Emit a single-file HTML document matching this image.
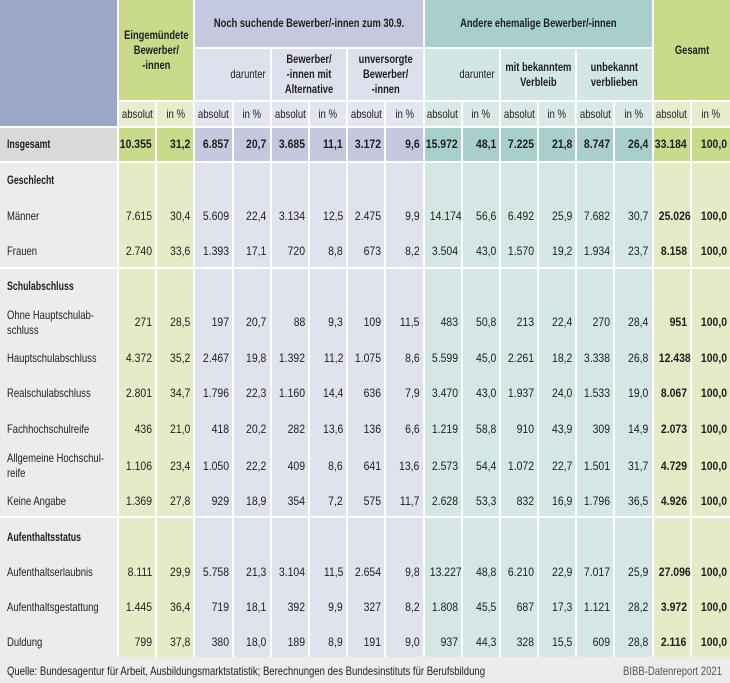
<!DOCTYPE html>
<html><head><meta charset="utf-8">
<style>
*{box-sizing:border-box}
body{margin:0;width:730px;height:683px;position:relative;overflow:hidden;background:#fff;font-family:"Liberation Sans",sans-serif;color:#1e1e1e;font-size:12px}
.g{position:absolute;left:0;width:730px;display:grid;grid-template-columns:117px repeat(15,36.2px) 1fr;column-gap:2px}
.hd{top:0;grid-template-rows:47px 51px 24px 33px;row-gap:2px}
.hd>div{display:flex;align-items:center;justify-content:center;text-align:center;line-height:15px;white-space:nowrap}
.h{display:inline-block;font-weight:bold;transform:scaleX(.78);transform-origin:50% 50%}
.hr{justify-content:flex-end !important;padding-right:4px}
.hr span{display:inline-block;transform:scaleX(.79);transform-origin:100% 50%}
.ab{display:inline-block;transform:scaleX(.8);transform-origin:50% 50%}
.ins>div,.ins{}
.hd .num{justify-content:flex-end;padding-right:3px}
.n{display:inline-block;transform:scaleX(.87);transform-origin:100% 50%;white-space:nowrap}
.b{font-weight:bold}
.l{display:inline-block;transform:scaleX(.79);transform-origin:0 50%;white-space:nowrap}
.lb{display:inline-block;font-weight:bold;transform:scaleX(.73);transform-origin:0 50%;white-space:nowrap}
.sec{grid-template-rows:1fr}
.row{position:absolute;left:0;width:730px;height:30px;display:grid;grid-template-columns:117px repeat(15,36.2px) 1fr;column-gap:2px;align-items:center}
.row>div{text-align:right;padding-right:3px;white-space:nowrap;line-height:15px}
.row>div.lab{text-align:left;padding-left:7px;padding-right:0}
.LH{background:#9ca6c9}.GH{background:#c9da8b}.BH{background:#c5c9df}.TH{background:#a8cfcb}
.B2{background:#dee0ed}.T2{background:#d2e6e3}
.G3{background:#e5edcd}.B3{background:#e3e5f0}.T3{background:#dae9e7}
.IL{background:#d9d9d9}.IG{background:#c9da8b}.IB{background:#c4c8de}.IT{background:#a8cfcb}
.BL{background:#ececec}.BG{background:#e3ecc6}.BB{background:#e0e2ee}.BT{background:#d4e7e4}
</style></head><body>

<div class="g hd">
  <div class="LH" style="grid-column:1;grid-row:1/4"></div>
  <div class="GH" style="grid-column:2/4;grid-row:1/3"><span class="h">Eingemündete<br>Bewerber/<br>-innen</span></div>
  <div class="BH" style="grid-column:4/10;grid-row:1"><span class="h">Noch suchende Bewerber/-innen zum 30.9.</span></div>
  <div class="TH" style="grid-column:10/16;grid-row:1"><span class="h">Andere ehemalige Bewerber/-innen</span></div>
  <div class="GH" style="grid-column:16/18;grid-row:1/3"><span class="h">Gesamt</span></div>
  <div class="B2 hr" style="grid-column:4/6;grid-row:2"><span>darunter</span></div>
  <div class="B2" style="grid-column:6/8;grid-row:2"><span class="h">Bewerber/<br>-innen mit<br>Alternative</span></div>
  <div class="B2" style="grid-column:8/10;grid-row:2"><span class="h">unversorgte<br>Bewerber/<br>-innen</span></div>
  <div class="T2 hr" style="grid-column:10/12;grid-row:2"><span>darunter</span></div>
  <div class="T2" style="grid-column:12/14;grid-row:2"><span class="h">mit bekanntem<br>Verbleib</span></div>
  <div class="T2" style="grid-column:14/16;grid-row:2"><span class="h">unbekannt<br>verblieben</span></div>

  <div class="G3" style="grid-row:3"><span class="ab">absolut</span></div>
  <div class="G3" style="grid-row:3"><span class="ab">in %</span></div>
  <div class="B3" style="grid-row:3"><span class="ab">absolut</span></div>
  <div class="B3" style="grid-row:3"><span class="ab">in %</span></div>
  <div class="B3" style="grid-row:3"><span class="ab">absolut</span></div>
  <div class="B3" style="grid-row:3"><span class="ab">in %</span></div>
  <div class="B3" style="grid-row:3"><span class="ab">absolut</span></div>
  <div class="B3" style="grid-row:3"><span class="ab">in %</span></div>
  <div class="T3" style="grid-row:3"><span class="ab">absolut</span></div>
  <div class="T3" style="grid-row:3"><span class="ab">in %</span></div>
  <div class="T3" style="grid-row:3"><span class="ab">absolut</span></div>
  <div class="T3" style="grid-row:3"><span class="ab">in %</span></div>
  <div class="T3" style="grid-row:3"><span class="ab">absolut</span></div>
  <div class="T3" style="grid-row:3"><span class="ab">in %</span></div>
  <div class="G3" style="grid-row:3"><span class="ab">absolut</span></div>
  <div class="G3" style="grid-row:3"><span class="ab">in %</span></div>

  <div class="IL" style="grid-row:4;justify-content:flex-start;padding-left:7px"><span class="lb">Insgesamt</span></div>
  <div class="IG num" style="grid-row:4"><span class="n b">10.355</span></div>
  <div class="IG num" style="grid-row:4"><span class="n b">31,2</span></div>
  <div class="IB num" style="grid-row:4"><span class="n b">6.857</span></div>
  <div class="IB num" style="grid-row:4"><span class="n b">20,7</span></div>
  <div class="IB num" style="grid-row:4"><span class="n b">3.685</span></div>
  <div class="IB num" style="grid-row:4"><span class="n b">11,1</span></div>
  <div class="IB num" style="grid-row:4"><span class="n b">3.172</span></div>
  <div class="IB num" style="grid-row:4"><span class="n b">9,6</span></div>
  <div class="IT num" style="grid-row:4"><span class="n b">15.972</span></div>
  <div class="IT num" style="grid-row:4"><span class="n b">48,1</span></div>
  <div class="IT num" style="grid-row:4"><span class="n b">7.225</span></div>
  <div class="IT num" style="grid-row:4"><span class="n b">21,8</span></div>
  <div class="IT num" style="grid-row:4"><span class="n b">8.747</span></div>
  <div class="IT num" style="grid-row:4"><span class="n b">26,4</span></div>
  <div class="IG num" style="grid-row:4"><span class="n b">33.184</span></div>
  <div class="IG num" style="grid-row:4"><span class="n b">100,0</span></div>
</div>

<!-- body section backgrounds -->
<div class="g sec" style="top:163px;height:104px">
  <div class="BL"></div><div class="BG"></div><div class="BG"></div><div class="BB"></div><div class="BB"></div><div class="BB"></div><div class="BB"></div><div class="BB"></div><div class="BB"></div><div class="BT"></div><div class="BT"></div><div class="BT"></div><div class="BT"></div><div class="BT"></div><div class="BT"></div><div class="BG"></div><div class="BG"></div>
</div>
<div class="g sec" style="top:269px;height:247px">
  <div class="BL"></div><div class="BG"></div><div class="BG"></div><div class="BB"></div><div class="BB"></div><div class="BB"></div><div class="BB"></div><div class="BB"></div><div class="BB"></div><div class="BT"></div><div class="BT"></div><div class="BT"></div><div class="BT"></div><div class="BT"></div><div class="BT"></div><div class="BG"></div><div class="BG"></div>
</div>
<div class="g sec" style="top:518px;height:139px">
  <div class="BL"></div><div class="BG"></div><div class="BG"></div><div class="BB"></div><div class="BB"></div><div class="BB"></div><div class="BB"></div><div class="BB"></div><div class="BB"></div><div class="BT"></div><div class="BT"></div><div class="BT"></div><div class="BT"></div><div class="BT"></div><div class="BT"></div><div class="BG"></div><div class="BG"></div>
</div>
<div style="position:absolute;left:0;top:657px;width:730px;height:26px;background:#ececec"></div>

<!-- rows -->
<div class="row" style="top:165px"><div class="lab"><span class="lb">Geschlecht</span></div></div>

<div class="row" style="top:201px"><div class="lab"><span class="l">Männer</span></div>
<div><span class="n">7.615</span></div><div><span class="n">30,4</span></div><div><span class="n">5.609</span></div><div><span class="n">22,4</span></div><div><span class="n">3.134</span></div><div><span class="n">12,5</span></div><div><span class="n">2.475</span></div><div><span class="n">9,9</span></div><div><span class="n">14.174</span></div><div><span class="n">56,6</span></div><div><span class="n">6.492</span></div><div><span class="n">25,9</span></div><div><span class="n">7.682</span></div><div><span class="n">30,7</span></div><div><span class="n b">25.026</span></div><div><span class="n b">100,0</span></div></div>

<div class="row" style="top:236px"><div class="lab"><span class="l">Frauen</span></div>
<div><span class="n">2.740</span></div><div><span class="n">33,6</span></div><div><span class="n">1.393</span></div><div><span class="n">17,1</span></div><div><span class="n">720</span></div><div><span class="n">8,8</span></div><div><span class="n">673</span></div><div><span class="n">8,2</span></div><div><span class="n">3.504</span></div><div><span class="n">43,0</span></div><div><span class="n">1.570</span></div><div><span class="n">19,2</span></div><div><span class="n">1.934</span></div><div><span class="n">23,7</span></div><div><span class="n b">8.158</span></div><div><span class="n b">100,0</span></div></div>

<div class="row" style="top:271px"><div class="lab"><span class="lb">Schulabschluss</span></div></div>

<div class="row" style="top:307.5px"><div class="lab"><span class="l">Ohne Hauptschulab-<br>schluss</span></div>
<div><span class="n">271</span></div><div><span class="n">28,5</span></div><div><span class="n">197</span></div><div><span class="n">20,7</span></div><div><span class="n">88</span></div><div><span class="n">9,3</span></div><div><span class="n">109</span></div><div><span class="n">11,5</span></div><div><span class="n">483</span></div><div><span class="n">50,8</span></div><div><span class="n">213</span></div><div><span class="n">22,4</span></div><div><span class="n">270</span></div><div><span class="n">28,4</span></div><div><span class="n b">951</span></div><div><span class="n b">100,0</span></div></div>

<div class="row" style="top:343px"><div class="lab"><span class="l">Hauptschulabschluss</span></div>
<div><span class="n">4.372</span></div><div><span class="n">35,2</span></div><div><span class="n">2.467</span></div><div><span class="n">19,8</span></div><div><span class="n">1.392</span></div><div><span class="n">11,2</span></div><div><span class="n">1.075</span></div><div><span class="n">8,6</span></div><div><span class="n">5.599</span></div><div><span class="n">45,0</span></div><div><span class="n">2.261</span></div><div><span class="n">18,2</span></div><div><span class="n">3.338</span></div><div><span class="n">26,8</span></div><div><span class="n b">12.438</span></div><div><span class="n b">100,0</span></div></div>

<div class="row" style="top:378px"><div class="lab"><span class="l">Realschulabschluss</span></div>
<div><span class="n">2.801</span></div><div><span class="n">34,7</span></div><div><span class="n">1.796</span></div><div><span class="n">22,3</span></div><div><span class="n">1.160</span></div><div><span class="n">14,4</span></div><div><span class="n">636</span></div><div><span class="n">7,9</span></div><div><span class="n">3.470</span></div><div><span class="n">43,0</span></div><div><span class="n">1.937</span></div><div><span class="n">24,0</span></div><div><span class="n">1.533</span></div><div><span class="n">19,0</span></div><div><span class="n b">8.067</span></div><div><span class="n b">100,0</span></div></div>

<div class="row" style="top:414px"><div class="lab"><span class="l">Fachhochschulreife</span></div>
<div><span class="n">436</span></div><div><span class="n">21,0</span></div><div><span class="n">418</span></div><div><span class="n">20,2</span></div><div><span class="n">282</span></div><div><span class="n">13,6</span></div><div><span class="n">136</span></div><div><span class="n">6,6</span></div><div><span class="n">1.219</span></div><div><span class="n">58,8</span></div><div><span class="n">910</span></div><div><span class="n">43,9</span></div><div><span class="n">309</span></div><div><span class="n">14,9</span></div><div><span class="n b">2.073</span></div><div><span class="n b">100,0</span></div></div>

<div class="row" style="top:451px"><div class="lab"><span class="l">Allgemeine Hochschul-<br>reife</span></div>
<div><span class="n">1.106</span></div><div><span class="n">23,4</span></div><div><span class="n">1.050</span></div><div><span class="n">22,2</span></div><div><span class="n">409</span></div><div><span class="n">8,6</span></div><div><span class="n">641</span></div><div><span class="n">13,6</span></div><div><span class="n">2.573</span></div><div><span class="n">54,4</span></div><div><span class="n">1.072</span></div><div><span class="n">22,7</span></div><div><span class="n">1.501</span></div><div><span class="n">31,7</span></div><div><span class="n b">4.729</span></div><div><span class="n b">100,0</span></div></div>

<div class="row" style="top:486px"><div class="lab"><span class="l">Keine Angabe</span></div>
<div><span class="n">1.369</span></div><div><span class="n">27,8</span></div><div><span class="n">929</span></div><div><span class="n">18,9</span></div><div><span class="n">354</span></div><div><span class="n">7,2</span></div><div><span class="n">575</span></div><div><span class="n">11,7</span></div><div><span class="n">2.628</span></div><div><span class="n">53,3</span></div><div><span class="n">832</span></div><div><span class="n">16,9</span></div><div><span class="n">1.796</span></div><div><span class="n">36,5</span></div><div><span class="n b">4.926</span></div><div><span class="n b">100,0</span></div></div>

<div class="row" style="top:522px"><div class="lab"><span class="lb">Aufenthaltsstatus</span></div></div>

<div class="row" style="top:557px"><div class="lab"><span class="l">Aufenthaltserlaubnis</span></div>
<div><span class="n">8.111</span></div><div><span class="n">29,9</span></div><div><span class="n">5.758</span></div><div><span class="n">21,3</span></div><div><span class="n">3.104</span></div><div><span class="n">11,5</span></div><div><span class="n">2.654</span></div><div><span class="n">9,8</span></div><div><span class="n">13.227</span></div><div><span class="n">48,8</span></div><div><span class="n">6.210</span></div><div><span class="n">22,9</span></div><div><span class="n">7.017</span></div><div><span class="n">25,9</span></div><div><span class="n b">27.096</span></div><div><span class="n b">100,0</span></div></div>

<div class="row" style="top:592px"><div class="lab"><span class="l">Aufenthaltsgestattung</span></div>
<div><span class="n">1.445</span></div><div><span class="n">36,4</span></div><div><span class="n">719</span></div><div><span class="n">18,1</span></div><div><span class="n">392</span></div><div><span class="n">9,9</span></div><div><span class="n">327</span></div><div><span class="n">8,2</span></div><div><span class="n">1.808</span></div><div><span class="n">45,5</span></div><div><span class="n">687</span></div><div><span class="n">17,3</span></div><div><span class="n">1.121</span></div><div><span class="n">28,2</span></div><div><span class="n b">3.972</span></div><div><span class="n b">100,0</span></div></div>

<div class="row" style="top:627px"><div class="lab"><span class="l">Duldung</span></div>
<div><span class="n">799</span></div><div><span class="n">37,8</span></div><div><span class="n">380</span></div><div><span class="n">18,0</span></div><div><span class="n">189</span></div><div><span class="n">8,9</span></div><div><span class="n">191</span></div><div><span class="n">9,0</span></div><div><span class="n">937</span></div><div><span class="n">44,3</span></div><div><span class="n">328</span></div><div><span class="n">15,5</span></div><div><span class="n">609</span></div><div><span class="n">28,8</span></div><div><span class="n b">2.116</span></div><div><span class="n b">100,0</span></div></div>

<svg style="position:absolute;left:0;top:657px" width="730" height="26">
  <text x="7" y="18" font-family="Liberation Sans, sans-serif" font-size="12" fill="#1e1e1e" textLength="478" lengthAdjust="spacingAndGlyphs">Quelle: Bundesagentur für Arbeit, Ausbildungsmarktstatistik; Berechnungen des Bundesinstituts für Berufsbildung</text>
  <text x="623" y="18" font-family="Liberation Sans, sans-serif" font-size="12" fill="#555" textLength="99" lengthAdjust="spacingAndGlyphs">BIBB-Datenreport 2021</text>
</svg>
</body></html>
